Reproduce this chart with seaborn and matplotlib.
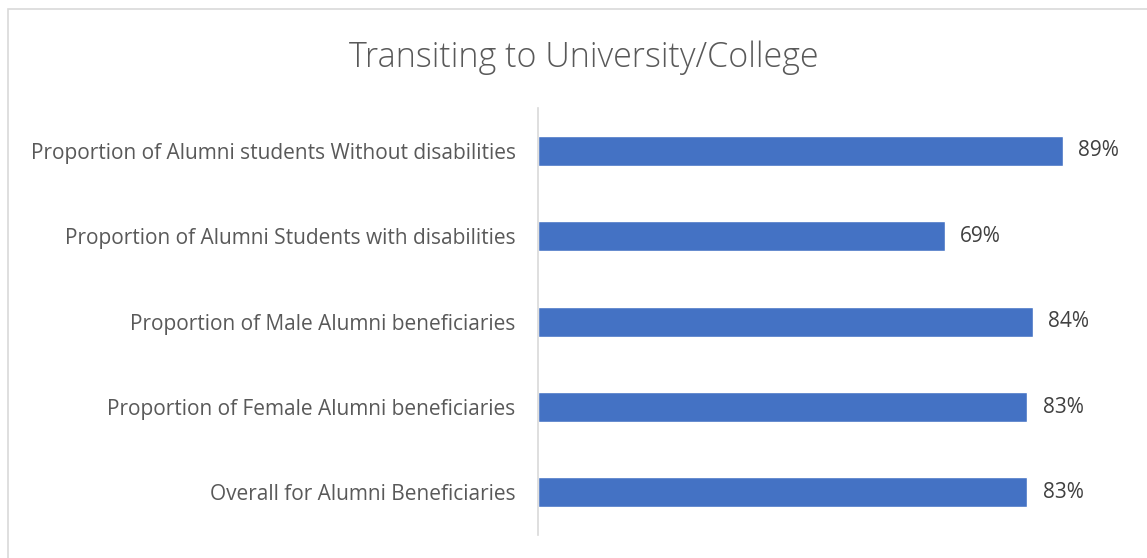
import matplotlib
matplotlib.use("Agg")
import matplotlib.pyplot as plt
import seaborn as sns
import pandas as pd
from matplotlib.patches import Rectangle

categories = [
    "Proportion of Alumni students Without disabilities",
    "Proportion of Alumni Students with disabilities",
    "Proportion of Male Alumni beneficiaries",
    "Proportion of Female Alumni beneficiaries",
    "Overall for Alumni Beneficiaries",
]
values = [89, 69, 84, 83, 83]
title = "Transiting to University/College"

df = pd.DataFrame({"category": categories, "value": values})

sns.set_theme(style="white")
plt.rcParams["font.family"] = ["Open Sans", "DejaVu Sans"]

fig = plt.figure(figsize=(11.47, 5.58), dpi=100)
ax = fig.add_axes([0.469, 0.041, 0.514, 0.765])

sns.barplot(data=df, x="value", y="category", orient="h", color="#4472C4",
            saturation=1, width=0.35, ax=ax, order=categories)

ax.set_xlim(0, 100)
ax.set_ylim(len(categories) - 0.5, -0.5)
ax.set_xlabel("")
ax.set_ylabel("")
ax.set_xticks([])
for side in ["top", "right", "bottom"]:
    ax.spines[side].set_visible(False)
ax.spines["left"].set_color("#D9D9D9")
ax.spines["left"].set_linewidth(1.2)
ax.tick_params(axis="y", length=0, pad=16, labelsize=15, labelcolor="#595959")

for cont in ax.containers:
    ax.bar_label(cont, labels=[f"{v}%" for v in values], padding=11,
                 fontsize=15, color="#404040")

fig.text(0.509, 0.897, title, ha="center", va="center", fontsize=24.5,
         color="#595959", fontweight="light")

# outer chart frame
fig.patches.append(Rectangle((0.007, -0.05), 1.05, 1.034, transform=fig.transFigure,
                             fill=False, edgecolor="#D9D9D9", linewidth=1.2))

fig.savefig("out.png", dpi=100, facecolor="white")
